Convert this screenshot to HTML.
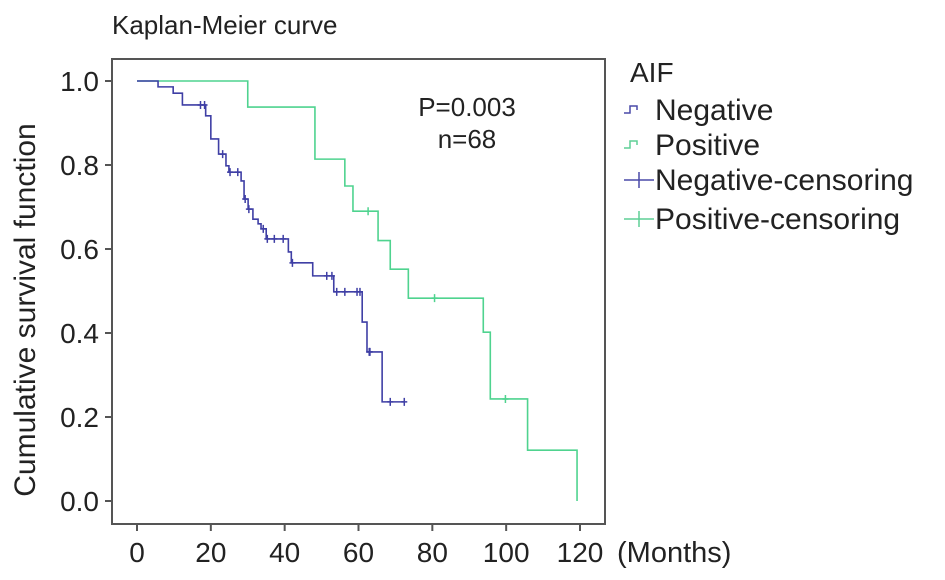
<!DOCTYPE html>
<html><head><meta charset="utf-8"><style>
html,body{margin:0;padding:0;background:#fff}
svg{display:block;font-family:"Liberation Sans",Arial,sans-serif}
</style></head><body>
<svg id="chart" width="945" height="580" viewBox="0 0 945 580">
<text x="112" y="34" font-size="26" fill="#222">Kaplan-Meier curve</text>
<rect x="112" y="59" width="493" height="465" fill="none" stroke="#555" stroke-width="2"/>
<g id="axes"></g>
<g id="series"></g>
<text transform="translate(35,310) rotate(-90)" text-anchor="middle" font-size="30" fill="#222">Cumulative survival function</text>
<text x="467" y="116" text-anchor="middle" font-size="26" fill="#222">P=0.003</text>
<text x="467" y="148" text-anchor="middle" font-size="26" fill="#222">n=68</text>
<g>
<text x="630" y="82" font-size="28" fill="#222">AIF</text>
<g><path d="M624,113 h6 v-7 h7 v4" fill="none" stroke="#4a4aa8" stroke-width="1.5"/><text x="655" y="120" font-size="30" fill="#222">Negative</text></g>
<g><path d="M624,148 h6 v-7 h7 v4" fill="none" stroke="#5ecf95" stroke-width="1.5"/><text x="655" y="155" font-size="30" fill="#222">Positive</text></g>
<g><path d="M624,180 h30 M639,172 v16" fill="none" stroke="#4a4aa8" stroke-width="1.5"/><text x="655" y="190" font-size="30" fill="#222">Negative-censoring</text></g>
<g><path d="M624,219 h30 M639,211 v16" fill="none" stroke="#5ecf95" stroke-width="1.5"/><text x="655" y="229" font-size="30" fill="#222">Positive-censoring</text></g>
</g>
</svg>
<script>
const xTicks=[0,20,40,60,80,100,120];
const yTicks=[0.0,0.2,0.4,0.6,0.8,1.0];
const yTickLabels=["0.0","0.2","0.4","0.6","0.8","1.0"];
const negTimes=[5.7,9.8,12.3,18.6,20,22.1,24.1,24.9,28.2,29,30.1,31.4,32.8,33.6,35,41,41.8,47.6,53.3,61,62.3,66.4];
const negSurv=[0.986,0.971,0.943,0.917,0.862,0.826,0.798,0.783,0.762,0.719,0.695,0.671,0.660,0.648,0.624,0.593,0.567,0.536,0.498,0.426,0.355,0.236];
const negCensor=[17.2,18.3,23.2,25.2,27.3,29.3,30.3,34.2,35.3,37.2,39.6,42.1,51.4,52.8,54.1,56.3,59.6,60.4,62.9,63.1,68.6,72.4];
const negEnd=72.4;
const posTimes=[30,48.2,56.3,58.5,65.3,68.6,73.5,93.8,95.7,105.8,119.2];
const posSurv=[0.938,0.814,0.75,0.69,0.62,0.552,0.483,0.402,0.243,0.121,0.0];
const posCensor=[62.6,80.6,99.8];
const posEnd=119.2;

const NS="http://www.w3.org/2000/svg";
function xs(m){return 137+m*(580-137)/120;}
function ys(v){return 501-v*420;}
function mk(tag,attrs,parent){const e=document.createElementNS(NS,tag);for(const k in attrs)e.setAttribute(k,attrs[k]);parent.appendChild(e);return e;}
const axes=document.getElementById('axes');
xTicks.forEach(t=>{
  const l=mk('line',{x1:xs(t),x2:xs(t),y1:524,y2:531,stroke:'#555','stroke-width':2},axes);
  
  
  const tx=mk('text',{x:xs(t),y:562,'text-anchor':'middle','font-size':28,fill:'#222'},axes);
  tx.textContent=String(t);
  
  
});
const mo=mk('text',{x:617,y:562,'font-size':29,fill:'#222'},axes);
mo.textContent='(Months)';


yTicks.forEach((t,i)=>{
  const l=mk('line',{x1:105,x2:112,y1:ys(t),y2:ys(t),stroke:'#555','stroke-width':2},axes);
  
  
  const tx=mk('text',{x:99,y:ys(t)+10,'text-anchor':'end','font-size':28,fill:'#222'},axes);
  tx.textContent=yTickLabels[i];
  
  
});
function survAt(times,surv,t){let v=1;for(let i=0;i<times.length;i++){if(times[i]<=t)v=surv[i];}return v;}
function drawCurve(times,surv,censor,end,color,name){
  const g=document.getElementById('series');
  let d='M'+xs(0)+','+ys(1);
  times.forEach((t,i)=>{d+=' H'+xs(t)+' V'+ys(surv[i]);});
  if(end>times[times.length-1])d+=' H'+xs(end);
  const p=mk('path',{d:d,fill:'none',stroke:color,'stroke-width':1.6},g);
  
  
  censor.forEach(c=>{
    const y=ys(survAt(times,surv,c));
    const m=mk('path',{d:'M'+(xs(c)-3)+','+y+' h6 M'+xs(c)+','+(y-4)+' v8',stroke:color,'stroke-width':1.5,fill:'none'},g);
    
    
  });
}
drawCurve(posTimes,posSurv,posCensor,posEnd,'#4fd38f','positive');
drawCurve(negTimes,negSurv,negCensor,negEnd,'#3f3fa5','negative');
</script>
</body></html>
